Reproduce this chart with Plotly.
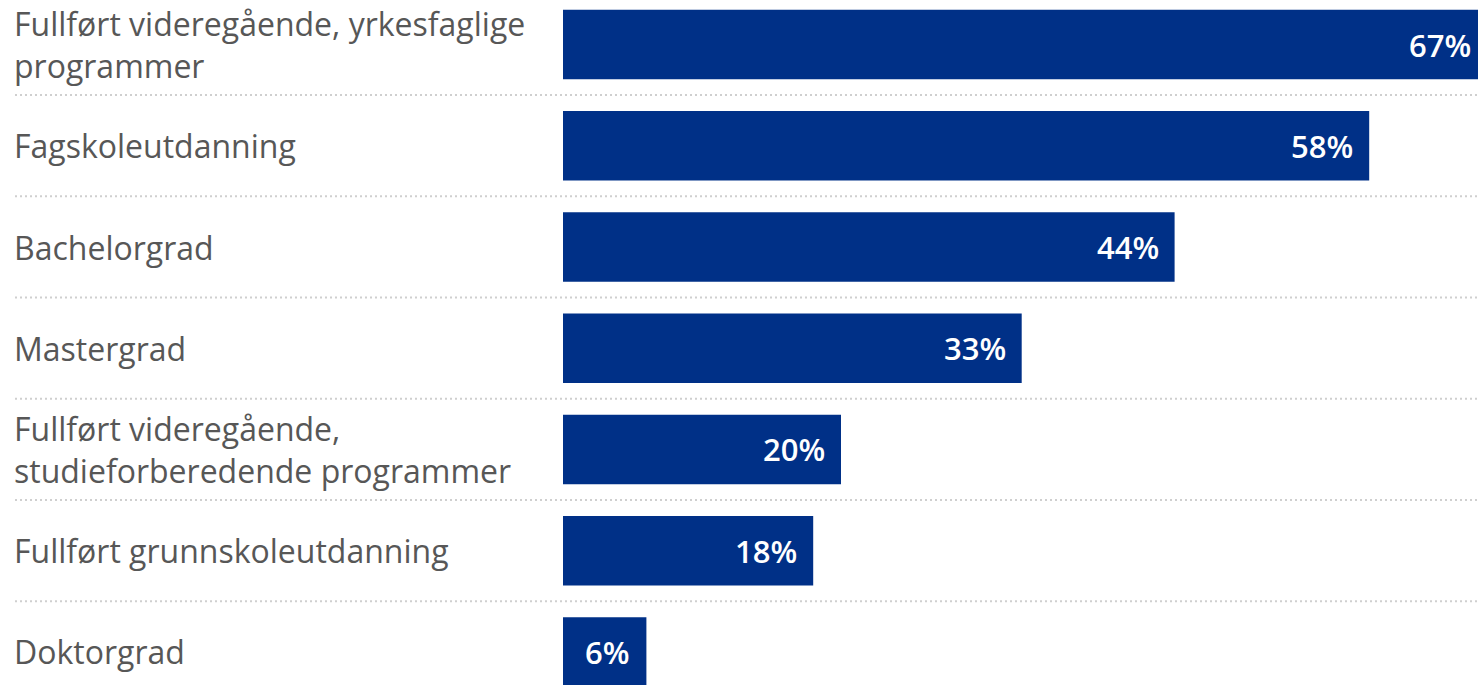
import plotly.graph_objects as go

categories = [
    "Fullført videregående, yrkesfaglige<br>programmer",
    "Fagskoleutdanning",
    "Bachelorgrad",
    "Mastergrad",
    "Fullført videregående,<br>studieforberedende programmer",
    "Fullført grunnskoleutdanning",
    "Doktorgrad",
]
values = [67, 58, 44, 33, 20, 18, 6]

BAR_COLOR = "#003087"
LABEL_COLOR = "#575757"
FONT = "Open Sans"

VIEW_W = 1478
W, H = 1510, 685   # wider than the 1478 viewport: the top bar is cut at the edge, as in the reference
L = 563
PX_PER_UNIT = 13.9
plot_w = W - L

idx = list(range(len(categories)))

fig = go.Figure()
fig.add_trace(go.Bar(
    x=values,
    y=idx,
    orientation="h",
    marker=dict(color=BAR_COLOR, line=dict(width=0)),
    cliponaxis=False,
    hoverinfo="skip",
))

annotations = []
shapes = []
x_label = (12 - L) / plot_w
x_grid = (15 - L) / plot_w
for i, cat in enumerate(categories):
    lines = cat.split("<br>")
    n = len(lines)
    for j, ln in enumerate(lines):
        offset = (j - (n - 1) / 2) * 0.42
        annotations.append(dict(
            x=x_label, xref="paper", xanchor="left",
            y=i + offset, yref="y", yanchor="middle",
            text=ln, showarrow=False, align="left",
            font=dict(family=FONT, size=32, color=LABEL_COLOR),
        ))
    if i < len(categories) - 1:
        shapes.append(dict(
            type="line", xref="paper", yref="y",
            x0=x_grid, x1=1, y0=i + 0.5, y1=i + 0.5,
            line=dict(color="#cfcfcf", width=2, dash="2px,3px"),
            layer="below",
        ))

# value labels inside the bar ends (kept inside the visible page for the cut-off bar)
for i, v in enumerate(values):
    bar_end_px = L + v * PX_PER_UNIT
    shift = min(-14, (VIEW_W - 5) - bar_end_px)
    annotations.append(dict(
        x=v, xref="x", xanchor="right", xshift=shift,
        y=i, yref="y", yanchor="middle",
        text=f"{v}%", showarrow=False,
        font=dict(family=FONT, size=31, color="white", weight=600),
    ))

fig.update_layout(
    width=W, height=H,
    margin=dict(l=L, r=0, t=0, b=0),
    paper_bgcolor="white", plot_bgcolor="white",
    showlegend=False,
    bargap=0.314,
    xaxis=dict(range=[0, plot_w / PX_PER_UNIT], visible=False, fixedrange=True),
    yaxis=dict(range=[6.326, -0.4395], visible=False, fixedrange=True),
    annotations=annotations,
    shapes=shapes,
)

fig.write_html(
    "out.html",
    config={"displayModeBar": False},
    post_script="document.body.style.margin='0';document.body.style.overflow='hidden';",
)
